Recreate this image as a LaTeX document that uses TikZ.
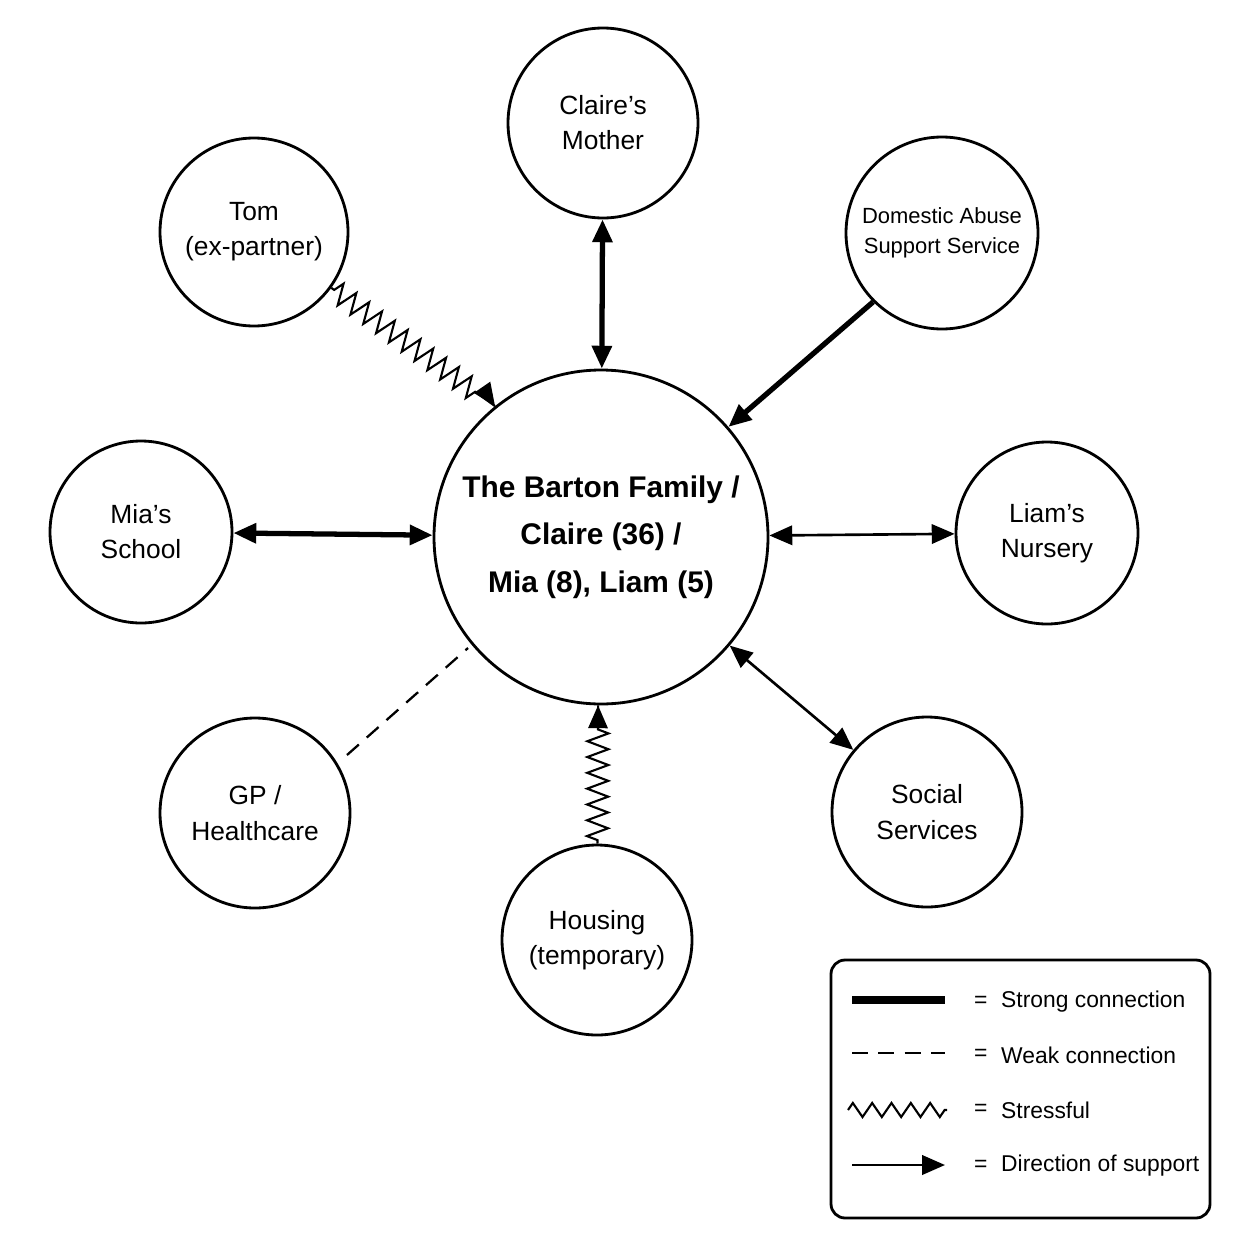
\documentclass[tikz,border=0pt]{standalone}
\usepackage{fontspec}
\setmainfont{Liberation Sans}
\usetikzlibrary{arrows.meta,decorations.pathmorphing}
\begin{document}
\begin{tikzpicture}[x=0.02cm,y=-0.02cm,
  circ/.style={draw,circle,line width=1.6pt,inner sep=0pt,align=center,font=\fontsize{15}{20}\selectfont},
  strong/.style={line width=3pt},
  normal/.style={line width=1.5pt},
  tip/.style={-{Triangle[length=13pt,width=11pt]}},
  tips/.style={{Triangle[length=13pt,width=11pt]}-{Triangle[length=13pt,width=11pt]}},
  zz/.style={line width=1.2pt,decorate,decoration={zigzag,segment length=9pt,amplitude=6pt,pre length=2pt,post length=12pt}},
  lg/.style={anchor=west,font=\fontsize{13}{16}\selectfont}]
\useasboundingbox (0,0) rectangle (1254,1254);
\node[circ,minimum size=334*0.02cm,font=\bfseries\fontsize{17}{27}\selectfont] (c) at (601,537) {The Barton Family /\\Claire (36) /\\Mia (8), Liam (5)};
\node[circ,minimum size=190*0.02cm] (m) at (603,123) {Claire’s\\Mother};
\node[circ,minimum size=188*0.02cm] (t) at (254,232) {Tom\\(ex-partner)};
\node[circ,minimum size=192*0.02cm,font=\fontsize{12.5}{17}\selectfont] (d) at (942,233) {Domestic Abuse\\Support Service};
\node[circ,minimum size=182*0.02cm] (s) at (141,532) {Mia’s\\School};
\node[circ,minimum size=182*0.02cm] (n) at (1047,533) {Liam’s\\Nursery};
\node[circ,minimum size=190*0.02cm] (g) at (255,813) {GP /\\Healthcare};
\node[circ,minimum size=190*0.02cm] (ss) at (927,812) {Social\\Services};
\node[circ,minimum size=190*0.02cm] (h) at (597,940) {Housing\\(temporary)};
\draw[strong,tips] (m) -- (c);
\draw[strong,tip] (d.225) -- (c);
\draw[strong,tips] (s) -- (c);
\draw[normal,tips] (c) -- (n);
\draw[normal,tips] (c) -- (ss);
\draw[zz] (t) -- (c.129);
\draw[-{Triangle[length=13pt,width=11pt]},line width=1.2pt] (486,393) -- (c.129);
\draw[zz] (h) -- (c.269);
\draw[-{Triangle[length=13pt,width=11pt]},line width=1.2pt] (598,725) -- (c.269);
\coordinate (ga) at (347,755); \coordinate (gb) at (468,648);
\draw[line width=1.3pt,dash pattern=on 9pt off 6pt] (ga) -- (gb);
\node[draw,line width=1.6pt,rounded corners=8pt,minimum width=379*0.02cm,minimum height=258*0.02cm] (box) at (1020.5,1089) {};
\coordinate (l1a) at (852,1000); \coordinate (l1b) at (945,1000);
\draw[strong,line width=4.5pt] (l1a) -- (l1b);
\coordinate (l2a) at (852,1053); \coordinate (l2b) at (945,1053);
\draw[line width=1.3pt,dash pattern=on 9pt off 6pt] (l2a) -- (l2b);
\coordinate (l3a) at (848,1110); \coordinate (l3b) at (947,1110);
\draw[line width=1.2pt,decorate,decoration={zigzag,segment length=11pt,amplitude=4pt}] (l3a) -- (l3b);
\coordinate (l4a) at (852,1165); \coordinate (l4b) at (945,1165);
\draw[normal,tip] (l4a) -- (l4b);
\foreach \y/\t in {1002/Strong connection,1055/Weak connection,1110/Stressful,1166/Direction of support}{
  \node[lg] at (968,\y) {=};
  \node[lg] at (995,\y) {\t};
}
\end{tikzpicture}
\end{document}
